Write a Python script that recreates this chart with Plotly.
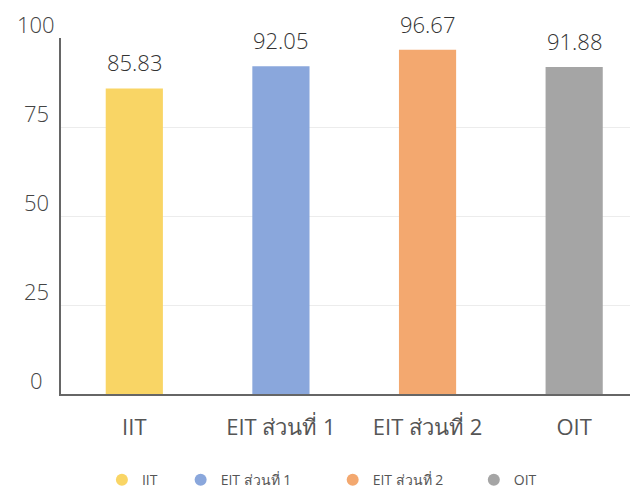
import plotly.graph_objects as go

categories = ["IIT", "EIT ส่วนที่ 1", "EIT ส่วนที่ 2", "OIT"]
values = [85.83, 92.05, 96.67, 91.88]
colors = ["#f9d565", "#8aa7dc", "#f3a86f", "#a5a5a5"]
y_ticks = [0, 25, 50, 75, 100]

FONT = "Open Sans, Noto Sans, DejaVu Sans, sans-serif"
legend_pad = [5, 10, 7, 0]

fig = go.Figure()
fig.add_trace(go.Bar(
    x=categories, y=values, marker=dict(color=colors, line=dict(width=0)),
    width=0.39, showlegend=False, hoverinfo="x+y",
))
for c, col, p in zip(categories, colors, legend_pad):
    fig.add_trace(go.Scatter(
        x=[None], y=[None], mode="markers", name=c + "\u00a0" * p,
        marker=dict(symbol="circle", size=13, color=col),
    ))
for c, v in zip(categories, values):
    fig.add_annotation(
        x=c, y=v, text=f"{v:.2f}", showarrow=False, yanchor="bottom",
        yshift=9, font=dict(family=FONT, size=22, color="#333333", weight=300),
    )
# centred y tick labels
for t in y_ticks:
    fig.add_annotation(
        xref="paper", x=0, xshift=-25, xanchor="center",
        yref="y", y=t, yshift=14, yanchor="middle",
        text=str(t), showarrow=False,
        font=dict(family=FONT, size=22, color="#444444", weight=300),
    )

fig.update_layout(
    width=638, height=501,
    margin=dict(l=53, r=0, t=30, b=115, autoexpand=False),
    paper_bgcolor="white", plot_bgcolor="white",
    font=dict(family=FONT, color="#444444", weight=300),
    bargap=0.6,
    legend=dict(
        orientation="h", x=0.446, xanchor="center", y=-0.242, yanchor="middle",
        font=dict(family=FONT, size=14, color="#555555", weight=400),
        itemsizing="constant",
    ),
    xaxis=dict(
        range=[-0.5, 3.49], showgrid=False, showline=True, automargin=False,
        linecolor="#666666", linewidth=1.5, ticks="",
        tickfont=dict(family=FONT, size=22, color="#555555", weight=400),
        ticklabelstandoff=13,
    ),
    yaxis=dict(
        range=[0, 100], tickvals=y_ticks, showgrid=True, gridcolor="#ececec",
        showline=True, linecolor="#666666", linewidth=1.5, zeroline=False,
        automargin=False, showticklabels=False, ticks="",
    ),
)

fig.write_html("out.html")
